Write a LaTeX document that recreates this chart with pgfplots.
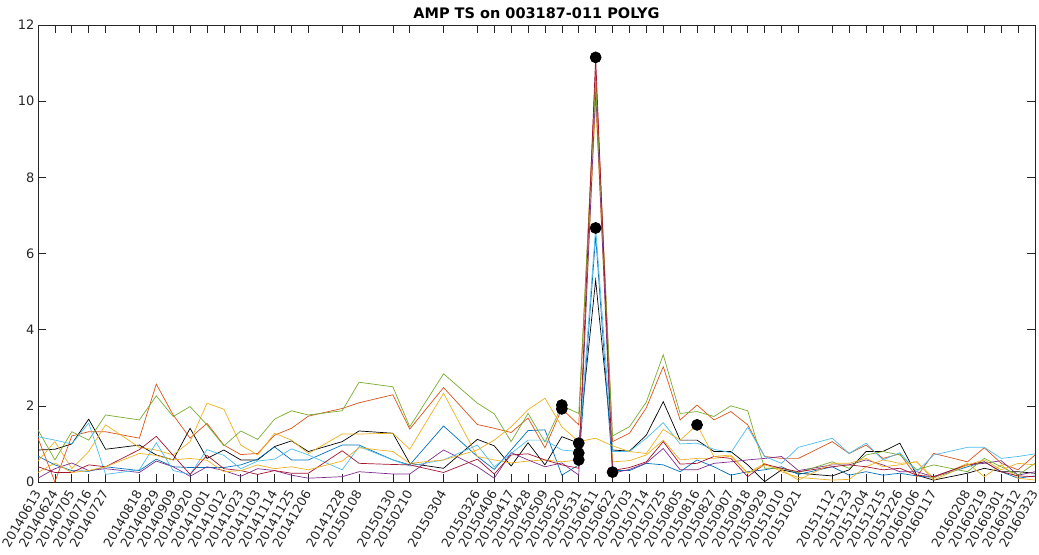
\documentclass[border=0pt]{standalone}
\usepackage{pgfplots}
\pgfplotsset{compat=1.18}
\usepackage{pgfplotstable}
\usepackage{fontspec}
\setmainfont{DejaVu Sans}
\definecolor{mB}{rgb}{0,0.447,0.741}
\definecolor{mO}{rgb}{0.850,0.325,0.098}
\definecolor{mY}{rgb}{0.929,0.694,0.125}
\definecolor{mP}{rgb}{0.494,0.184,0.556}
\definecolor{mG}{rgb}{0.466,0.674,0.188}
\definecolor{mC}{rgb}{0.301,0.745,0.933}
\definecolor{mR}{rgb}{0.635,0.078,0.184}
\definecolor{axgray}{rgb}{0.15,0.15,0.15}

\pgfplotstableread{
x  G     O     Y     Y2    K     C     B     R     P
0  1.37  1.15  0.55  0.25  0.84  1.19  0.68  0.40  0.10
1  0.58  0.00  1.06  0.50  0.86  1.10  0.45  0.25  0.35
2  1.32  1.21  0.35  0.25  1.00  1.00  0.30  0.25  0.50
3  1.10  1.32  0.80  0.30  1.65  1.55  0.28  0.45  0.30
4  1.76  1.32  1.50  0.40  0.86  0.20  0.40  0.40  0.35
6  1.63  1.15  0.91  0.75  0.97  0.32  0.30  0.85  0.25
7  2.26  2.57  0.84  0.70  0.71  1.03  0.60  1.20  0.55
8  1.72  1.76  0.71  0.58  0.58  0.30  0.40  0.70  0.40
9  1.98  1.15  1.06  0.62  1.41  0.20  0.38  0.20  0.15
10 1.50  1.54  2.07  0.57  0.62  0.85  0.38  0.70  0.40
11 0.95  0.97  1.91  0.27  0.84  0.70  0.38  0.35  0.30
12 1.34  0.72  0.97  0.30  0.58  0.35  0.45  0.30  0.15
13 1.12  0.75  0.71  0.45  0.58  0.55  0.60  0.20  0.35
14 1.65  1.23  1.28  0.35  0.93  0.60  0.92  0.30  0.30
15 1.87  1.41  1.10  0.40  1.08  0.87  0.58  0.23  0.18
16 1.76  1.73  0.75  0.32  0.80  0.71  0.58  0.23  0.10
18 1.87  1.93  1.26  0.55  1.06  0.32  0.97  0.82  0.14
19 2.62  2.08  1.26  0.90  1.34  0.93  0.97  0.49  0.27
21 2.50  2.29  1.28  0.80  1.28  0.58  0.58  0.46  0.21
22 1.45  1.39  0.86  0.49  0.49  0.42  0.45  0.45  0.21
24 2.84  2.48  2.33  0.58  0.36  0.58  1.47  0.25  0.84
26 2.07  1.51  0.67  0.84  1.12  0.97  0.67  0.60  0.40
27 1.79  1.41  0.58  1.10  0.95  0.40  0.33  0.21  0.10
28 1.06  1.30  0.50  1.45  0.42  0.75  0.84  0.71  0.77
29 1.80  1.68  0.55  1.90  1.03  1.10  1.35  0.74  0.58
30 1.05  0.90  0.58  2.20  0.45  1.10  1.37  0.58  0.40
31 2.00  1.92  0.53  1.45  1.19  0.84  0.18  0.45  0.50
32 1.80  1.50  0.58  1.06  1.02  0.80  0.45  0.36  0.18
33 10.50 10.80 10.00 1.15  5.30  6.67  6.45  11.15 10.30
34 1.21  1.06  0.53  0.95  0.84  0.80  0.30  0.30  0.23
35 1.45  1.28  0.56  0.80  0.81  0.80  0.30  0.38  0.33
36 2.10  1.95  0.71  0.75  1.23  1.15  0.49  0.53  0.50
37 3.34  3.03  1.10  1.38  2.11  1.56  0.45  1.06  0.88
38 1.80  1.63  0.58  1.10  1.10  1.00  0.27  0.47  0.32
39 1.85  2.02  0.62  1.50  1.10  1.02  0.58  0.49  0.32
40 1.72  1.63  0.62  0.67  0.80  0.86  0.40  0.67  0.49
41 2.00  1.85  0.68  0.71  0.80  0.77  0.18  0.62  0.53
42 1.87  1.50  0.23  0.23  0.45  1.44  0.27  0.14  0.58
43 0.36  0.67  0.49  0.45  0.01  0.67  0.32  0.47  0.62
44 0.36  0.62  0.27  0.32  0.32  0.49  0.40  0.36  0.67
45 0.25  0.62  0.12  0.05  0.23  0.91  0.20  0.27  0.30
47 0.53  1.06  0.05  0.49  0.16  1.15  0.40  0.40  0.45
48 0.36  0.75  0.07  0.49  0.32  0.75  0.18  0.45  0.45
49 0.71  0.97  0.40  0.62  0.80  1.02  0.27  0.40  0.58
50 0.80  0.62  0.58  0.40  0.80  0.58  0.18  0.32  0.45
51 0.71  0.74  0.49  0.45  1.02  0.77  0.23  0.36  0.27
52 0.32  0.14  0.53  0.53  0.18  0.27  0.16  0.18  0.27
53 0.45  0.75  0.10  0.05  0.05  0.71  0.12  0.14  0.14
55 0.27  0.53  0.49  0.45  0.23  0.91  0.40  0.45  0.45
56 0.62  0.90  0.14  0.58  0.36  0.91  0.53  0.53  0.49
57 0.40  0.49  0.45  0.32  0.27  0.62  0.27  0.27  0.56
58 0.18  0.32  0.10  0.49  0.27  0.67  0.10  0.16  0.18
59 0.49  0.71  0.05  0.45  0.23  0.74  0.16  0.14  0.27
}\ampdata

\pgfplotstableread{
x  y
31 2.02
31 1.92
32 1.02
32 0.76
32 0.58
33 11.15
33 6.67
34 0.26
39 1.50
}\dotdata

\begin{document}
\begin{tikzpicture}
\begin{axis}[
  name=ax,
  scale only axis,
  width=997pt, height=457pt,
  xmin=0, xmax=59, ymin=0, ymax=12,
  ytick={0,2,4,6,8,10,12},
  xtick={0,1,2,3,4,6,7,8,9,10,11,12,13,14,15,16,18,19,21,22,24,26,27,28,29,30,31,32,33,34,35,36,37,38,39,40,41,42,43,44,45,47,48,49,50,51,52,53,55,56,57,58,59},
  xticklabels={20140613,20140624,20140705,20140716,20140727,20140818,20140829,20140909,20140920,20141001,20141012,20141023,20141103,20141114,20141125,20141206,20141228,20150108,20150130,20150210,20150304,20150326,20150406,20150417,20150428,20150509,20150520,20150531,20150611,20150622,20150703,20150714,20150725,20150805,20150816,20150827,20150907,20150918,20150929,20151010,20151021,20151112,20151123,20151204,20151215,20151226,20160106,20160117,20160208,20160219,20160301,20160312,20160323},
  xticklabel style={rotate=60, anchor=east, font=\fontsize{12.6}{15}\selectfont, inner sep=1pt},
  xticklabel shift=8pt,
  yticklabel style={font=\fontsize{13}{15}\selectfont},
  tick label style={color=axgray},
  axis line style={axgray, line width=0.6pt},
  major tick style={axgray, line width=0.6pt},
  major tick length=8pt,
  tick align=inside,
  title={AMP TS on 003187-011 POLYG},
  title style={font=\bfseries\fontsize{14.5}{16}\selectfont, yshift=-3pt},
  /pgf/number format/assume math mode=true,
  every axis plot/.append style={line width=0.7pt},
]
\addplot[black, no markers] table[x=x, y=K]{\ampdata};
\addplot[mB, no markers] table[x=x, y=B]{\ampdata};
\addplot[mO, no markers] table[x=x, y=O]{\ampdata};
\addplot[mY, no markers] table[x=x, y=Y]{\ampdata};
\addplot[mP, no markers] table[x=x, y=P]{\ampdata};
\addplot[mG, no markers] table[x=x, y=G]{\ampdata};
\addplot[mC, no markers] table[x=x, y=C]{\ampdata};
\addplot[mR, no markers] table[x=x, y=R]{\ampdata};
\addplot[mY, no markers] table[x=x, y=Y2]{\ampdata};
\addplot[only marks, mark=*, mark size=5.5pt, black] table[x=x, y=y]{\dotdata};
\end{axis}
\pgfresetboundingbox
\path ([xshift=-38pt,yshift=-72pt]ax.south west) rectangle ([xshift=4pt,yshift=25pt]ax.north east);
\end{tikzpicture}
\end{document}
